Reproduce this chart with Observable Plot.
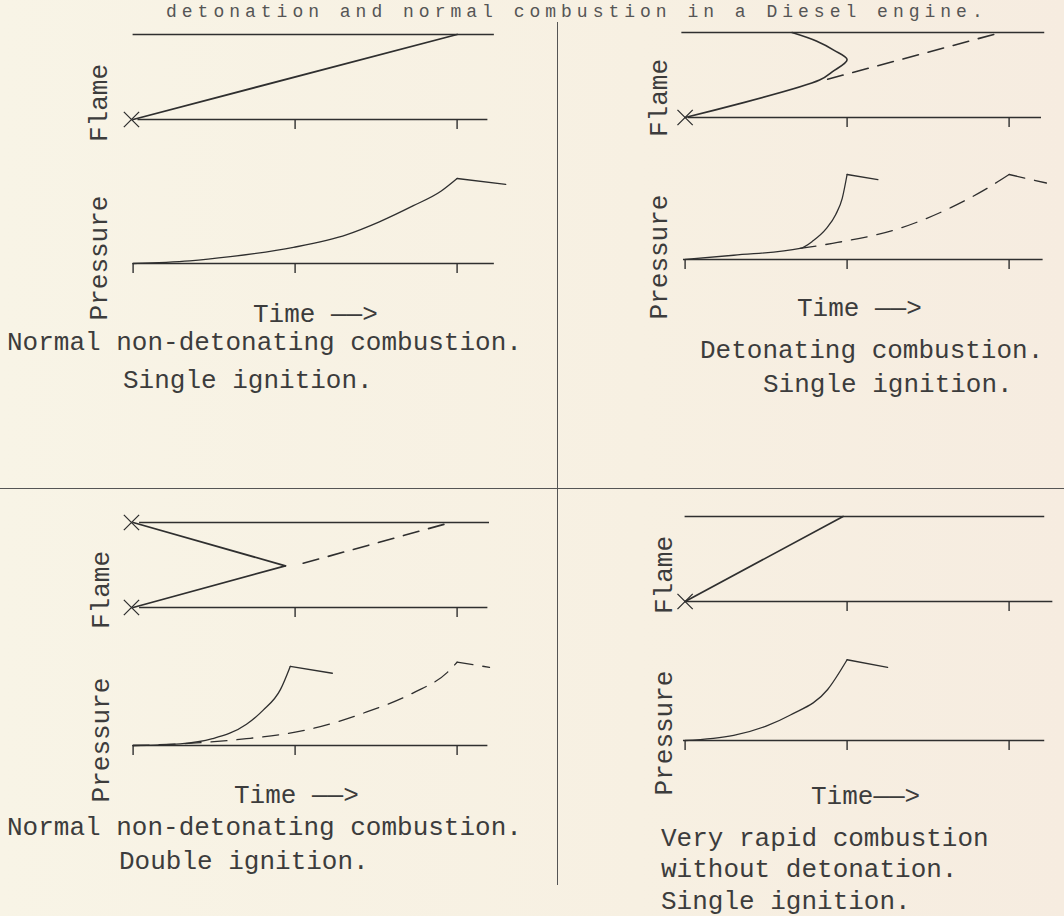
<!DOCTYPE html>
<html>
<head>
<meta charset="utf-8">
<script src="https://cdn.jsdelivr.net/npm/d3@7"></script>
<script src="https://cdn.jsdelivr.net/npm/@observablehq/plot@0.6"></script>
<style>
html, body { margin: 0; padding: 0; background: #f7f1e3; }
#page { position: relative; width: 1064px; height: 916px; overflow: hidden;
  background: linear-gradient(90deg, #f8f4e6 0%, #f7f0e2 60%, #f6ece0 100%);
  font-family: "Liberation Mono", "DejaVu Sans Mono", monospace; color: #3c3c3c; }
.txt { position: absolute; font-size: 26px; line-height: 20px; white-space: pre; }
.title { font-size: 18px; line-height: 22px; letter-spacing: 5px; color: #555; }
.rot { transform: translate(-50%, -50%) rotate(-90deg); transform-origin: center; }
.rule { position: absolute; background: #555; }
svg g[aria-label="x-axis tick"] path { stroke-width: 1.4; }
</style>
</head>
<body>
<div id="page"></div>
<script>
// ---------- data (time in tick units, flame position / pressure in relative units) ----------
const flameTicks = [1, 2];
const pressureTicks = [0, 1, 2];
const timeLabels = ["Time ——>", "Time ——>", "Time ——>", "Time——>"];
const flameLabel = "Flame";
const pressureLabel = "Pressure";
const captionsTL = ["Normal non-detonating combustion.", "Single ignition."];
const captionsTR = ["Detonating combustion.", "Single ignition."];
const captionsBL = ["Normal non-detonating combustion.", "Double ignition."];
const captionsBR = ["Very rapid combustion", "without detonation.", "Single ignition."];
const titleText = "detonation and normal combustion in a Diesel engine.";

// walls / baselines: [level, tStart, tEnd]
const tlWalls = [[1, 0, 2.23], [0, 0.03, 2.19]];
const trWalls = [[1, -0.02, 2.22], [0, 0.02, 2.2]];
const blWalls = [[1, 0.04, 2.2], [0, 0.04, 2.19]];
const brWalls = [[1, 0, 2.22], [0, 0, 2.27]];
const tlBase = [[0, 0, 2.23]];
const trBase = [[0, -0.01, 2.21]];
const blBase = [[0, 0, 2.19]];
const brBase = [[0, -0.01, 2.22]];

// ignition points [t, position]
const tlIgnition = [[-0.01, 0]];
const trIgnition = [[0, 0]];
const blIgnition = [[-0.01, 0], [-0.01, 1]];
const brIgnition = [[0, 0]];

// flame fronts [t, position]
const tlFlame = [[0, 0], [2.0, 1]];
const trFlameSolid = [[0, 0], [0.83, 0.44], [0.91, 0.54], [1.0, 0.68], [0.92, 0.79], [0.81, 0.9], [0.66, 1.0]];
const trFlameDashed = [[0.88, 0.45], [1.95, 1.0]];
const blFlameLower = [[0, 0], [0.94, 0.49]];
const blFlameUpper = [[0, 1], [0.94, 0.49]];
const blFlameDashed = [[1.05, 0.52], [1.96, 1.0]];
const brFlame = [[0, 0], [0.975, 1]];

// pressure [t, pressure]
const tlPressureRise = [[0, 0], [0.35, 0.03], [0.6, 0.08], [0.99, 0.19], [1.32, 0.34], [1.52, 0.49], [1.73, 0.68], [1.9, 0.85], [2.0, 1.0]];
const tlPressureFall = [[2.0, 1.0], [2.3, 0.93]];
const trPressureRise = [[0, 0], [0.3, 0.05], [0.71, 0.13], [0.79, 0.22], [0.87, 0.36], [0.93, 0.53], [0.97, 0.72], [1.0, 1.0]];
const trPressureFall = [[1.0, 1.0], [1.19, 0.94]];
const trPressureDashedRise = [[0.71, 0.13], [0.91, 0.19], [1.33, 0.37], [1.64, 0.61], [1.84, 0.81], [2.0, 1.0]];
const trPressureDashedFall = [[2.0, 1.0], [2.23, 0.9]];
const blPressureRise = [[0, 0], [0.29, 0.02], [0.49, 0.08], [0.7, 0.25], [0.8, 0.41], [0.91, 0.66], [0.97, 0.93]];
const blPressureFall = [[0.97, 0.93], [1.23, 0.85]];
const blPressureDashedRise = [[0, 0], [0.39, 0.03], [0.7, 0.08], [1.11, 0.2], [1.42, 0.38], [1.73, 0.62], [1.94, 0.86], [2.0, 0.98]];
const blPressureDashedFall = [[2.0, 0.98], [2.2, 0.92]];
const brPressureRise = [[0, 0], [0.3, 0.06], [0.5, 0.17], [0.65, 0.3], [0.88, 0.6], [1.0, 0.95]];
const brPressureFall = [[1.0, 0.95], [1.25, 0.86]];

// ---------- drawing ----------
const page = document.getElementById("page");
const INK = "#2f2f2f";
const DASH = "16,10";
const W = 470, X0 = -0.3, UNIT = 162, H = 85, MT = 12, MB = 16;

function addText(str, left, top, cls) {
  const d = document.createElement("div");
  d.className = "txt" + (cls ? " " + cls : "");
  d.textContent = str;
  d.style.left = left + "px";
  d.style.top = top + "px";
  page.appendChild(d);
  return d;
}
function addRule(left, top, w, h) {
  const d = document.createElement("div");
  d.className = "rule";
  Object.assign(d.style, {left: left + "px", top: top + "px", width: w + "px", height: h + "px"});
  page.appendChild(d);
}

function line(data, opts) {
  return Plot.line(data, {x: d => d[0], y: d => d[1], stroke: INK, fill: "none", ...opts});
}

function subplot(t0, base, walls, ticks, marks) {
  const p = Plot.plot({
    width: W, height: H + MT + MB,
    marginLeft: 0, marginRight: 0, marginTop: MT, marginBottom: MB,
    x: {domain: [X0, X0 + W / UNIT], ticks: ticks, tickSize: 10, tickFormat: () => "", label: null},
    y: {domain: [0, 1], axis: null},
    style: {background: "transparent", color: INK, overflow: "visible"},
    marks: [
      Plot.ruleY(walls, {y: d => d[0], x1: d => d[1], x2: d => d[2], stroke: INK, strokeWidth: 1.6}),
      ...marks
    ]
  });
  p.style.position = "absolute";
  p.style.left = (t0 + X0 * UNIT) + "px";
  p.style.top = (base - H - MT) + "px";
  page.appendChild(p);
}

function ignition(data) {
  return Plot.dot(data, {x: d => d[0], y: d => d[1], symbol: "times", r: 7, stroke: INK, strokeWidth: 1.3});
}

// Top-left: normal, single ignition
subplot(133, 119, tlWalls, flameTicks, [
  line(tlFlame, {strokeWidth: 1.8}), ignition(tlIgnition)
]);
subplot(133, 263, tlBase, pressureTicks, [
  line(tlPressureRise, {strokeWidth: 1.3, curve: "monotone-x"}),
  line(tlPressureFall, {strokeWidth: 1.3})
]);

// Top-right: detonating, single ignition
subplot(685, 117, trWalls, flameTicks, [
  line(trFlameSolid, {strokeWidth: 1.6, curve: "catmull-rom"}),
  line(trFlameDashed, {strokeWidth: 1.6, strokeDasharray: DASH}),
  ignition(trIgnition)
]);
subplot(685, 259, trBase, pressureTicks, [
  line(trPressureRise, {strokeWidth: 1.3, curve: "monotone-x"}),
  line(trPressureFall, {strokeWidth: 1.3}),
  line(trPressureDashedRise, {strokeWidth: 1.3, curve: "monotone-x", strokeDasharray: DASH}),
  line(trPressureDashedFall, {strokeWidth: 1.3, strokeDasharray: DASH})
]);

// Bottom-left: normal, double ignition
subplot(133, 607, blWalls, flameTicks, [
  line(blFlameLower, {strokeWidth: 1.8}),
  line(blFlameUpper, {strokeWidth: 1.8}),
  line(blFlameDashed, {strokeWidth: 1.6, strokeDasharray: DASH}),
  ignition(blIgnition)
]);
subplot(133, 745, blBase, pressureTicks, [
  line(blPressureRise, {strokeWidth: 1.3, curve: "monotone-x"}),
  line(blPressureFall, {strokeWidth: 1.3}),
  line(blPressureDashedRise, {strokeWidth: 1.3, curve: "monotone-x", strokeDasharray: DASH}),
  line(blPressureDashedFall, {strokeWidth: 1.3, strokeDasharray: DASH})
]);

// Bottom-right: very rapid, single ignition
subplot(685, 601, brWalls, flameTicks, [
  line(brFlame, {strokeWidth: 1.7}), ignition(brIgnition)
]);
subplot(685, 740, brBase, pressureTicks, [
  line(brPressureRise, {strokeWidth: 1.3, curve: "monotone-x"}),
  line(brPressureFall, {strokeWidth: 1.3})
]);

// dividers
addRule(557, 22, 1.2, 863);
addRule(0, 488, 1064, 1.2);

// title line at the top edge
addText(titleText, 166, 1, "title");

// axis labels
[[100, 103, 100, 258], [660, 98, 660, 257], [102, 590, 102, 740], [665, 575, 665, 733]].forEach(([fx, fy, px, py]) => {
  addText(flameLabel, fx, fy, "rot");
  addText(pressureLabel, px, py, "rot");
});
addText(timeLabels[0], 253, 305);
addText(timeLabels[1], 797, 299);
addText(timeLabels[2], 234, 786);
addText(timeLabels[3], 811, 787);

// captions
addText(captionsTL[0], 7, 333);
addText(captionsTL[1], 123, 371);
addText(captionsTR[0], 700, 341);
addText(captionsTR[1], 763, 375);
addText(captionsBL[0], 7, 818);
addText(captionsBL[1], 119, 852);
addText(captionsBR[0], 661, 829);
addText(captionsBR[1], 661, 860);
addText(captionsBR[2], 661, 892);
</script>
</body>
</html>
